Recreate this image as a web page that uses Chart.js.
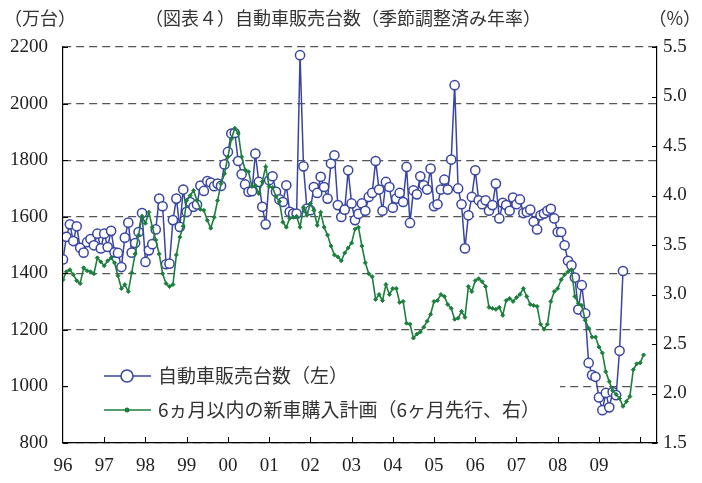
<!DOCTYPE html>
<html>
<head>
<meta charset="utf-8">
<script src="https://cdn.jsdelivr.net/npm/chart.js@4.4.1/dist/chart.umd.min.js"></script>
<style>
  html, body { margin: 0; padding: 0; background: #fff; }
  #wrap { width: 702px; height: 483px; }
</style>
</head>
<body>
<div id="wrap"><canvas id="salesChart" width="702" height="483"></canvas></div>
<script>
// 自動車販売台数（万台, 1996年1月〜）と6ヵ月以内の新車購入計画（%, 6ヶ月先行）

const yearLabels = ['96', '97', '98', '99', '00', '01', '02', '03', '04', '05', '06', '07', '08', '09'];

// 月次, 1996/1 - 2009/8
const salesVals = [
  1449, 1529, 1573, 1514, 1566, 1490, 1473, 1510, 1521, 1499, 1540, 1488,
  1540, 1493, 1550, 1474, 1472, 1422, 1526, 1579, 1473, 1507, 1546, 1613,
  1440, 1481, 1503, 1555, 1664, 1637, 1432, 1434, 1588, 1664, 1564, 1696,
  1617, 1652, 1635, 1643, 1710, 1691, 1726, 1721, 1708, 1717, 1709, 1785,
  1829, 1894, 1896, 1797, 1750, 1714, 1688, 1690, 1823, 1723, 1635, 1573,
  1729, 1743, 1688, 1661, 1652, 1711, 1617, 1611, 1611, 2171, 1778, 1629,
  1623, 1705, 1684, 1741, 1705, 1664, 1788, 1817, 1641, 1599, 1625, 1764,
  1647, 1588, 1610, 1647, 1621, 1670, 1684, 1797, 1696, 1621, 1723, 1705,
  1632, 1664, 1684, 1652, 1776, 1578, 1693, 1679, 1743, 1711, 1696, 1770,
  1637, 1644, 1696, 1731, 1696, 1802, 2065, 1700, 1644, 1488, 1605, 1670,
  1764, 1658, 1644, 1658, 1621, 1641, 1717, 1594, 1649, 1641, 1621, 1668,
  1644, 1661, 1613, 1617, 1625, 1582, 1555, 1605, 1611, 1621, 1628, 1594,
  1546, 1546, 1499, 1444, 1428, 1385, 1272, 1358, 1258, 1083, 1040, 1034,
  961, 916, 977, 926, 980, 969, 1126, 1408
];

// 月次, 1996/1 - 2010/2 (6ヶ月先行させた位置)
const planVals = [
  3.15, 3.23, 3.25, 3.20, 3.14, 3.11, 3.27, 3.24, 3.23, 3.21, 3.37, 3.33,
  3.29, 3.34, 3.37, 3.32, 3.19, 3.06, 3.10, 3.03, 3.22, 3.41, 3.60, 3.79,
  3.72, 3.83, 3.68, 3.55, 3.41, 3.21, 3.11, 3.08, 3.10, 3.40, 3.58, 3.69,
  3.95, 4.00, 4.05, 3.95, 3.86, 3.85, 3.75, 3.67, 3.78, 3.95, 4.12, 4.22,
  4.39, 4.57, 4.68, 4.63, 4.39, 4.26, 4.24, 4.09, 4.10, 4.02, 4.14, 4.29,
  4.09, 4.08, 3.99, 3.94, 3.73, 3.68, 3.77, 3.78, 3.79, 3.68, 3.88, 3.80,
  3.92, 3.85, 3.70, 3.83, 3.68, 3.60, 3.49, 3.40, 3.38, 3.34, 3.42, 3.47,
  3.52, 3.66, 3.68, 3.49, 3.32, 3.21, 3.18, 2.95, 3.00, 2.94, 3.10, 3.00,
  3.06, 3.06, 2.92, 2.93, 2.71, 2.70, 2.56, 2.60, 2.62, 2.67, 2.73, 2.80,
  2.93, 2.94, 3.00, 2.98, 2.90, 2.86, 2.75, 2.76, 2.83, 2.77, 3.08, 3.03,
  3.14, 3.16, 3.13, 3.08, 2.87, 2.86, 2.85, 2.87, 2.79, 2.94, 2.96, 2.93,
  2.97, 3.00, 3.06, 2.98, 2.90, 2.89, 2.88, 2.70, 2.65, 2.70, 2.93, 3.03,
  3.06, 3.15, 3.20, 3.23, 3.25, 2.98, 2.91, 2.89, 2.74, 2.66, 2.57, 2.57,
  2.47, 2.41, 2.22, 2.12, 2.03, 1.99, 1.95, 1.87, 1.92, 1.97, 2.24, 2.30,
  2.31, 2.39
];

const leftAxis = [800, 2200, 200];   // min, max, step
const rightAxis = [1.5, 5.5, 0.5];

const blue = '#3a44a3';
const green = '#1d7f3d';
const numFont = { family: "'Liberation Serif', 'DejaVu Serif', serif", size: 19 };
const jpFont = '"Noto Sans CJK JP", "Noto Sans", sans-serif';

// 見出し
const headerPlugin = {
    id: 'header',
    afterDraw(chart) {
        const c = chart.ctx;
        c.save();
        c.fillStyle = '#333';
        c.textBaseline = 'middle';
        c.font = '18px ' + jpFont;
        c.textAlign = 'left';
        c.fillText('（万台）', 4, 18);
        c.fillText('（図表４）自動車販売台数（季節調整済み年率）', 145, 18);
        c.textAlign = 'right';
        c.fillText('（%）', 701, 18);
        c.restore();
    }
};

// 内向きの目盛り
const innerTicks = {
    id: 'innerTicks',
    afterDraw(chart) {
        const c = chart.ctx;
        const a = chart.chartArea;
        const sx = chart.scales.x, sy = chart.scales.y, sy2 = chart.scales.y2;
        c.save();
        c.strokeStyle = '#000';
        c.lineWidth = 1;
        c.beginPath();
        for (let m = 12; m <= 168; m += 12) {
            const px = Math.round(sx.getPixelForValue(m)) + 0.5;
            c.moveTo(px, a.bottom);
            c.lineTo(px, a.bottom - 6);
        }
        for (let v = leftAxis[0]; v <= leftAxis[1]; v += leftAxis[2]) {
            const py = Math.round(sy.getPixelForValue(v)) + 0.5;
            c.moveTo(a.left, py);
            c.lineTo(a.left + 5, py);
        }
        for (let v = rightAxis[0]; v <= rightAxis[1] + 1e-9; v += rightAxis[2]) {
            const py = Math.round(sy2.getPixelForValue(v)) + 0.5;
            c.moveTo(a.right, py);
            c.lineTo(a.right - 5, py);
        }
        c.stroke();
        c.restore();
    }
};

// 凡例（グラフ内の白い枠）
const boxLegend = {
    id: 'boxLegend',
    afterDatasetsDraw(chart) {
        const c = chart.ctx;
        const sets = chart.data.datasets;
        c.save();
        c.fillStyle = '#fff';
        c.fillRect(68, 356, 492, 72);
        const rows = [376, 410];
        sets.forEach((ds, i) => {
            const y = rows[i];
            c.strokeStyle = ds.borderColor;
            c.lineWidth = 1.6;
            c.beginPath();
            c.moveTo(104, y);
            c.lineTo(151, y);
            c.stroke();
            c.beginPath();
            if (i === 0) {
                c.arc(127, y, 6, 0, Math.PI * 2);
                c.fillStyle = '#fff';
                c.fill();
                c.stroke();
            } else {
                c.arc(127, y, 2.5, 0, Math.PI * 2);
                c.fillStyle = ds.borderColor;
                c.fill();
            }
            c.fillStyle = '#333';
            c.font = '19px ' + jpFont;
            c.textBaseline = 'middle';
            c.textAlign = 'left';
            c.fillText(ds.label, 158, y);
        });
        c.restore();
    }
};

const ctx = document.getElementById('salesChart').getContext('2d');
new Chart(ctx, {
    type: 'line',
    data: {
        datasets: [{
            label: '自動車販売台数（左）',
            data: salesVals.map((v, i) => ({ x: i, y: v })),
            yAxisID: 'y',
            borderColor: blue,
            borderWidth: 1.5,
            pointRadius: 4.6,
            pointBorderWidth: 1.5,
            pointBackgroundColor: '#fff',
            pointBorderColor: blue,
            tension: 0,
            order: 2
        }, {
            label: '6ヵ月以内の新車購入計画（6ヶ月先行、右）',
            data: planVals.map((v, i) => ({ x: i, y: v })),
            yAxisID: 'y2',
            borderColor: green,
            borderWidth: 1.6,
            pointRadius: 2,
            pointStyle: 'rectRot',
            pointBorderWidth: 1,
            pointBackgroundColor: green,
            pointBorderColor: green,
            tension: 0,
            order: 1
        }]
    },
    options: {
        responsive: false,
        animation: false,
        devicePixelRatio: 1,
        layout: { padding: { top: 47, left: 0, right: 0, bottom: 0 } },
        plugins: {
            legend: { display: false },
            title: { display: false },
            tooltip: { enabled: false }
        },
        scales: {
            x: {
                type: 'linear',
                min: 0,
                max: 172.9,
                grid: { display: false, drawTicks: false },
                border: { display: true, color: '#000', width: 1.2 },
                ticks: {
                    stepSize: 12,
                    autoSkip: false,
                    includeBounds: false,
                    maxRotation: 0,
                    padding: 12,
                    color: '#222',
                    font: numFont,
                    callback: v => (v % 12 === 0 && v / 12 < yearLabels.length) ? yearLabels[v / 12] : ''
                },
                afterFit: s => { s.height = 40; }
            },
            y: {
                position: 'left',
                min: leftAxis[0],
                max: leftAxis[1],
                grid: { color: '#555', lineWidth: 1.2, drawTicks: false },
                border: { display: true, color: '#000', width: 1.2, dash: [8, 5] },
                ticks: {
                    stepSize: leftAxis[2],
                    padding: 15,
                    color: '#222',
                    font: numFont,
                    callback: v => String(v)
                },
                afterFit: s => { s.width = 63; }
            },
            y2: {
                position: 'right',
                min: rightAxis[0],
                max: rightAxis[1],
                grid: { display: false, drawTicks: false },
                border: { display: true, color: '#000', width: 1.2 },
                ticks: {
                    stepSize: rightAxis[2],
                    padding: 6,
                    color: '#222',
                    font: numFont,
                    callback: v => v.toFixed(1)
                },
                afterFit: s => { s.width = 45; }
            }
        }
    },
    plugins: [headerPlugin, innerTicks, boxLegend]
});
</script>
</body>
</html>
